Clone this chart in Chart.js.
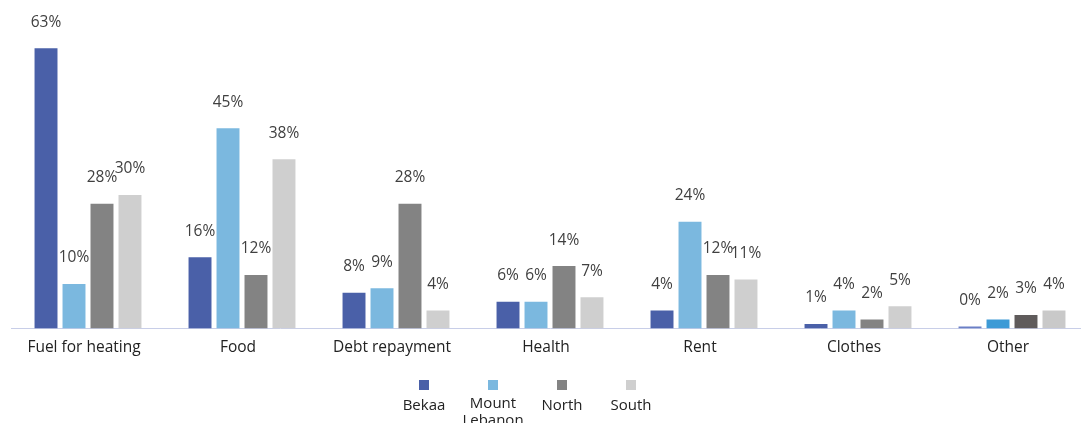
<!DOCTYPE html>
<html>
<head>
<meta charset="utf-8">
<script src="https://cdn.jsdelivr.net/npm/chart.js@4.4.1/dist/chart.umd.min.js"></script>
<style>
    html, body { margin: 0; padding: 0; background: #fff; overflow: hidden; }
    #wrap { width: 1089px; height: 423px; }
</style>
</head>
<body>
<div id="wrap"><canvas id="gastosChart"></canvas></div>
<script>
const categorias = ['Fuel for heating', 'Food', 'Debt repayment', 'Health', 'Rent', 'Clothes', 'Other']
const regioes = ['Bekaa', 'Mount Lebanon', 'North', 'South']

const bekaa = [63, 16, 8, 6, 4, 1, 0.4]
const mountLebanon = [10, 45, 9, 6, 24, 4, 2]
const north = [28, 12, 28, 14, 12, 2, 3]
const south = [30, 38, 4, 7, 11, 5, 4]

// the "Other" group uses a slightly different shade in each series
const cores = [
    { base: '#4a60a8', ultima: '#6a7fc6' },
    { base: '#7bb8df', ultima: '#3d9ad6' },
    { base: '#838383', ultima: '#5f5b5b' },
    { base: '#cfcfcf', ultima: '#c9c9c9' }
]

const FONTE = '"Open Sans", "Noto Sans", sans-serif'

function coresSerie(i) {
    return categorias.map((c, idx) => idx === categorias.length - 1 ? cores[i].ultima : cores[i].base)
}

const series = [bekaa, mountLebanon, north, south]

const rotulosValores = {
    id: 'rotulosValores',
    afterDatasetsDraw(chart) {
        const ctx = chart.ctx
        ctx.save()
        ctx.font = '15.5px ' + FONTE
        ctx.fillStyle = '#404040'
        ctx.textAlign = 'center'
        ctx.textBaseline = 'middle'
        chart.data.datasets.forEach((ds, i) => {
            chart.getDatasetMeta(i).data.forEach((barra, j) => {
                ctx.fillText(Math.round(ds.data[j]) + '%', barra.x, barra.y - 26)
            })
        })
        ctx.restore()
    }
}

// legend with the square above each name
const legendaEmbaixo = {
    id: 'legendaEmbaixo',
    afterDraw(chart) {
        const ctx = chart.ctx
        ctx.save()
        ctx.font = '15px ' + FONTE
        ctx.fillStyle = '#222'
        ctx.textAlign = 'center'
        ctx.textBaseline = 'middle'
        const inicio = 424
        const passo = 69
        chart.data.datasets.forEach((ds, i) => {
            const cx = inicio + passo * i
            ctx.fillStyle = cores[i].base
            ctx.fillRect(cx - 5, 380, 10, 10)
            ctx.fillStyle = '#222'
            const palavras = ds.label.split(' ')
            if (palavras.length > 1) {
                palavras.forEach((p, k) => ctx.fillText(p, cx, 404 + k * 17))
            } else {
                ctx.fillText(ds.label, cx, 406)
            }
        })
        ctx.restore()
    }
}

new Chart(document.getElementById('gastosChart'), {
    type: 'bar',
    data: {
        labels: categorias,
        datasets: regioes.map((nome, i) => ({
            label: nome,
            data: series[i],
            backgroundColor: coresSerie(i),
            categoryPercentage: 0.727,
            barPercentage: 0.82
        }))
    },
    options: {
        responsive: true,
        maintainAspectRatio: false,
        animation: false,
        layout: {
            padding: { top: 17, left: 11, right: 0, bottom: 64 }
        },
        scales: {
            x: {
                grid: { display: false },
                border: { display: true, color: '#c8cee8', width: 1 },
                ticks: {
                    color: '#222',
                    font: { family: FONTE, size: 15.5 },
                    labelOffset: -4,
                    padding: 2
                }
            },
            y: {
                display: false,
                min: 0,
                max: 70
            }
        },
        plugins: {
            legend: { display: false },
            tooltip: { enabled: false }
        }
    },
    plugins: [rotulosValores, legendaEmbaixo]
})
</script>
</body>
</html>
